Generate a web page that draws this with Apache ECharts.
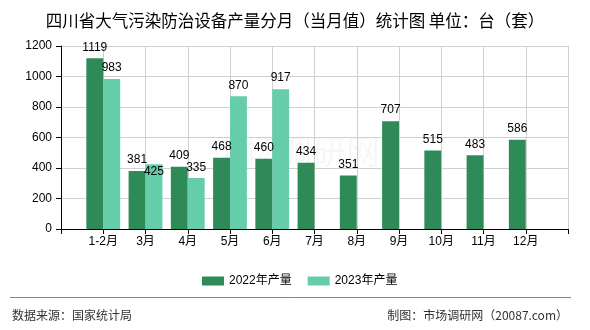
<!DOCTYPE html>
<html>
<head>
<meta charset="utf-8">
<script src="https://cdn.jsdelivr.net/npm/echarts@6/dist/echarts.min.js"></script>
<style>html,body{margin:0;padding:0;background:#fff;}#main{width:590px;height:330px;}</style>
</head>
<body>
<div id="main"></div>
<script>
var titleText = '四川省大气污染防治设备产量分月（当月值）统计图 单位：台（套）';
var categories = ['1-2月', '3月', '4月', '5月', '6月', '7月', '8月', '9月', '10月', '11月', '12月'];
var seriesNames = ['2022年产量', '2023年产量'];
var data2022 = [1119, 381, 409, 468, 460, 434, 351, 707, 515, 483, 586];
var data2023 = [983, 425, 335, 870, 917, null, null, null, null, null, null];
var yTicks = [0, 200, 400, 600, 800, 1000, 1200];
var sourceText = '数据来源：国家统计局';
var makerText = '制图：市场调研网（20087.com）';

var FONT = '"Liberation Sans", "Noto Sans CJK SC", sans-serif';
var axisData = [''].concat(categories).concat(['']);
function pad(arr) { return [null].concat(arr).concat([null]); }

var chart = echarts.init(document.getElementById('main'), null, {renderer: 'canvas'});
var LABEL_DIST = 5;

function avoidOverlap(params) {
  var i = params.dataIndex - 1;
  var v = data2023[i];
  var d = data2022[i];
  if (v == null || d == null || !v) return {};
  var r = params.rect, lr = params.labelRect;
  var base = r.y + r.height;
  var ppu = r.height / v;
  var darkTop = base - d * ppu;
  var bottom = darkTop - LABEL_DIST;
  var top = bottom - lr.height;
  var charW = lr.width / String(v).length;
  var w = charW * String(d).length;
  var cx = r.x - r.width / 2;
  var xOverlap = (cx - w / 2) < (lr.x + lr.width) && (cx + w / 2) > lr.x;
  var yOverlap = top < (lr.y + lr.height) && bottom > lr.y;
  if (xOverlap && yOverlap) {
    return {dy: bottom - lr.y};
  }
  return {};
}

var option = {
  animation: false,
  backgroundColor: '#fff',
  textStyle: {fontFamily: FONT},
  title: {
    text: titleText,
    left: 'center',
    top: 7,
    textStyle: {fontSize: 16.5, fontWeight: 'normal', color: '#000', fontFamily: '"Noto Sans CJK SC", sans-serif'}
  },
  legend: {
    data: seriesNames,
    left: 197,
    top: 270,
    icon: 'rect',
    itemWidth: 22,
    itemHeight: 9,
    itemGap: 16,
    textStyle: {fontSize: 12, color: '#000', fontFamily: FONT}
  },
  grid: {left: 61, right: 22, top: 46, bottom: 101, containLabel: false},
  xAxis: {
    type: 'category',
    data: axisData,
    boundaryGap: false,
    axisLine: {lineStyle: {color: '#000', width: 1}},
    axisTick: {show: true, interval: 0, length: 5, lineStyle: {color: '#000'}},
    axisLabel: {interval: 0, color: '#000', fontSize: 12, margin: 7},
    splitLine: {show: true, interval: 0, lineStyle: {color: '#d0d0d0', width: 1}}
  },
  yAxis: {
    type: 'value',
    min: yTicks[0],
    max: yTicks[yTicks.length - 1],
    interval: yTicks[1] - yTicks[0],
    axisLine: {show: true, lineStyle: {color: '#000', width: 1}},
    axisTick: {show: true, length: 5, lineStyle: {color: '#000'}},
    axisLabel: {color: '#000', fontSize: 12, margin: 9, formatter: function (v) { return String(v); }},
    splitLine: {show: true, lineStyle: {color: '#d0d0d0', width: 1}}
  },
  graphic: [
    {type: 'text', left: 'center', top: 134, z: 0, silent: true,
      style: {text: '市场调研网', fontSize: 34, fill: 'rgba(0,0,0,0.035)', fontFamily: '"Noto Sans CJK SC", sans-serif'}},
    {type: 'line', shape: {x1: 10, y1: 297.5, x2: 571, y2: 297.5}, style: {stroke: '#888', lineWidth: 1}},
    {type: 'text', left: 12, top: 309, style: {text: sourceText, fontSize: 12, fill: '#333', fontFamily: '"Noto Sans CJK SC", sans-serif'}},
    {type: 'text', right: 22, top: 309, style: {text: makerText, fontSize: 12, fill: '#333', fontFamily: '"Noto Sans CJK SC", sans-serif'}}
  ],
  series: [
    {
      name: seriesNames[0],
      type: 'bar',
      data: pad(data2022),
      barGap: '0%',
      barCategoryGap: '20%',
      itemStyle: {color: '#2E8B57'},
      label: {show: true, position: 'top', distance: LABEL_DIST, color: '#000', fontSize: 12, fontFamily: FONT}
    },
    {
      name: seriesNames[1],
      type: 'bar',
      data: pad(data2023),
      barGap: '0%',
      barCategoryGap: '20%',
      itemStyle: {color: '#66CDAA'},
      label: {show: true, position: 'top', distance: LABEL_DIST, color: '#000', fontSize: 12, fontFamily: FONT},
      labelLayout: avoidOverlap
    }
  ]
};
chart.setOption(option);
</script>
</body>
</html>
